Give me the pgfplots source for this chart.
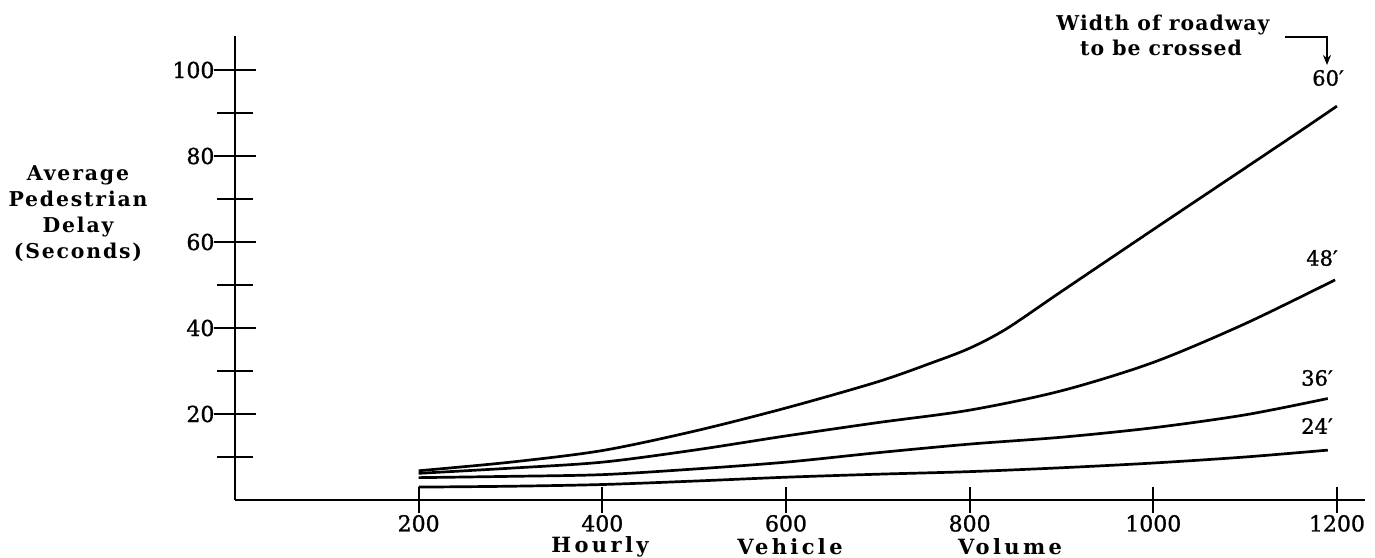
\documentclass[border=0pt]{standalone}
\usepackage{fontspec}
\setmainfont{DejaVu Serif}[FakeBold=1.2]
\newfontfamily\spaced[LetterSpace=9]{DejaVu Serif Bold}
\newfontfamily\wide[LetterSpace=16]{DejaVu Serif Bold}
\newfontfamily\annot[LetterSpace=5]{DejaVu Serif Bold}
\usepackage{pgfplots}
\usepackage{pgfplotstable}
\usetikzlibrary{arrows.meta}
\pgfplotsset{compat=1.18}

\pgfplotstableread{
x y
200 6.8
300 8.8
400 11.5
500 16
600 21.4
700 27.5
760 32
800 35.3
840 39.8
900 48.5
1000 62.9
1100 77.2
1160 85.8
1200 91.6
}\sixty
\pgfplotstableread{
x y
200 6.2
300 7.4
400 8.8
500 11.6
600 14.9
700 18
800 20.9
900 25.4
1000 32
1100 41
1198 51.2
}\fortyeight
\pgfplotstableread{
x y
200 5.2
300 5.5
400 5.9
500 7.2
600 8.8
700 11
800 13
900 14.6
1000 16.8
1100 19.8
1190 23.6
}\thirtysix
\pgfplotstableread{
x y
200 3.0
300 3.2
400 3.6
500 4.4
600 5.3
700 6.0
800 6.6
900 7.5
1000 8.6
1100 10
1190 11.6
}\twentyfour

\begin{document}
\begin{tikzpicture}
\path[use as bounding box] (0pt,0pt) rectangle (687.5pt,278.5pt);
% x axis and curves
\begin{axis}[at={(117.5pt,28.5pt)}, anchor=south west, scale only axis,
  width=564.75pt, height=232.2pt,
  xmin=0, xmax=1230, ymin=0, ymax=108,
  axis lines=left, axis line style={-, line width=1.4pt},
  xtick={200,400,...,1200}, ytick=\empty,
  tick align=center, major tick length=13pt,
  every tick/.style={black, line width=1.1pt},
  /pgf/number format/assume math mode=true,
  /pgf/number format/1000 sep={},
  tick label style={font=\fontsize{11}{13}\selectfont},
  xticklabel style={yshift=2.5pt},
  clip=false]
\addplot[black, line width=1.35pt, smooth, tension=0.5] table {\sixty};
\addplot[black, line width=1.35pt, smooth, tension=0.5] table {\fortyeight};
\addplot[black, line width=1.35pt, smooth, tension=0.5] table {\thirtysix};
\addplot[black, line width=1.35pt, smooth, tension=0.5] table {\twentyfour};
\end{axis}
% y axis
\begin{axis}[at={(117.5pt,28.5pt)}, anchor=south west, scale only axis,
  width=564.75pt, height=232.2pt,
  xmin=0, xmax=1230, ymin=0, ymax=108,
  axis lines=left, axis line style={-, line width=1.4pt},
  xtick=\empty, ytick={20,40,...,100}, minor ytick={10,30,...,90},
  tick align=center, major tick length=21.5pt, minor tick length=18pt,
  every tick/.style={black, line width=1.1pt},
  /pgf/number format/assume math mode=true,
  tick label style={font=\fontsize{11}{13}\selectfont},
  yticklabel style={xshift=4pt}]
\end{axis}
% labels
\begin{scope}[x=0.5pt,y=0.5pt]
\node[font=\spaced\fontsize{10.2}{13}\selectfont, align=center] at (78,343)
  {Average\\Pedestrian\\Delay\\(Seconds)};
\node[font=\wide\fontsize{10.5}{12}\selectfont] at (600,10) {Hourly};
\node[font=\wide\fontsize{10.5}{12}\selectfont] at (790,10) {Vehicle};
\node[font=\wide\fontsize{10.5}{12}\selectfont] at (1010,10) {Volume};
\node[font=\annot\fontsize{10.2}{12}\selectfont] at (1163,532) {Width of roadway};
\node[font=\annot\fontsize{10.2}{12}\selectfont] at (1161,509) {to be crossed};
\draw[line width=1.1pt, -{Stealth[length=5pt,width=4pt]}] (1285,520) -- (1327,520) -- (1327,492);
\node[font=\fontsize{10.5}{12}\selectfont] at (1328,479) {60′};
\node[font=\fontsize{10.5}{12}\selectfont] at (1322,299) {48′};
\node[font=\fontsize{10.5}{12}\selectfont] at (1317,179) {36′};
\node[font=\fontsize{10.5}{12}\selectfont] at (1317,131) {24′};
\end{scope}
\end{tikzpicture}
\end{document}
